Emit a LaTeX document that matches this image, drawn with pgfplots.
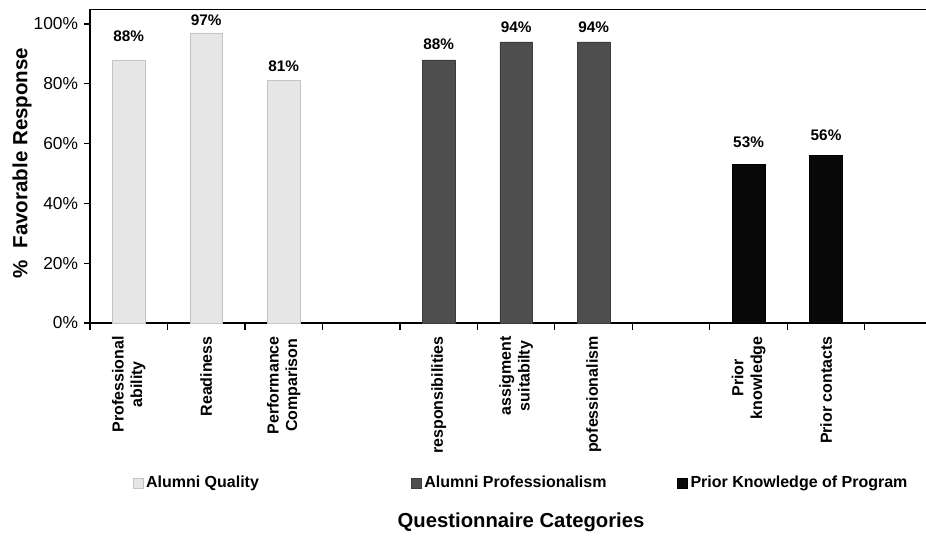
\documentclass[border=0pt]{standalone}
\usepackage{pgfplots}
\usepackage{pgfplotstable}
\pgfplotsset{compat=1.18}
\usepackage{fontspec}
\setmainfont{Liberation Sans}

\definecolor{qualfill}{HTML}{E6E6E6}
\definecolor{qualedge}{HTML}{C4C4C4}
\definecolor{proffill}{HTML}{4E4E4E}
\definecolor{profedge}{HTML}{3C3C3C}
\definecolor{priorfill}{HTML}{080808}

% x = slot, y = percent favourable, off = lift of the value label (pt)
\pgfplotstableread{
x y  off
0 88 10.3
1 97 2.0
2 81 3.5
}\qualdata
\pgfplotstableread{
x y  off
4 88 4.3
5 94 3.5
6 94 3.5
}\profdata
\pgfplotstableread{
x y  off
8 53 8.8
9 56 7.3
}\priordata

\begin{document}
\begin{tikzpicture}
\useasboundingbox (-67.5pt,-159.75pt) rectangle (627pt,242.25pt);
\begin{axis}[
  at={(0,0)}, anchor=south west,
  scale only axis, width=627pt, height=235.5pt,
  xmin=-0.5, xmax=10.29, ymin=0, ymax=105,
  axis lines*=left,
  axis line style={line width=1.4pt, -},
  tick align=outside, tick pos=left,
  major tick length=4.5pt, minor tick length=5pt,
  tick style={line width=0.9pt, black},
  ytick={0,20,...,100},
  yticklabel={\pgfmathprintnumber{\tick}\%},
  /pgf/number format/assume math mode=true,
  yticklabel style={font=\fontsize{13}{15}\selectfont, xshift=-1pt},
  xtick={0,1,2,4,5,6,8,9},
  xticklabels={{Professional\\ability},Readiness,{Performance\\Comparison},
    responsibilities,{assigment\\suitabilty},pofessionalism,
    {Prior\\knowledge},Prior contacts},
  major x tick style={draw=none},
  minor xtick={-0.5,0.5,...,9.5},
  xticklabel style={rotate=90, anchor=east, align=center,
    font=\bfseries\fontsize{12}{14}\selectfont, xshift=-2pt},
  ylabel={\%\ \ Favorable Response},
  ylabel style={at={(axis description cs:-0.0813,0.51)}, anchor=center,
    font=\bfseries\fontsize{15.4}{17}\selectfont},
  xlabel={Questionnaire Categories},
  xlabel style={at={(axis description cs:0.5156,-0.634)}, anchor=center,
    font=\bfseries\fontsize{15.2}{17}\selectfont},
  ybar, bar width=0.42, bar shift=0pt,
  visualization depends on={\thisrow{off} \as \labeloff},
  nodes near coords={\pgfmathprintnumber{\pgfplotspointmeta}\%},
  nodes near coords style={font=\bfseries\fontsize{11.5}{13}\selectfont,
    yshift=\labeloff pt},
  legend image code/.code={\draw[#1] (0pt,-3.75pt) rectangle (7.5pt,3.75pt);},
  legend columns=3,
  legend style={at={(axis description cs:0.046,-0.51)}, anchor=west, draw=none,
    fill=none, font=\bfseries\fontsize{12}{14}\selectfont,
    /tikz/column 2/.style={column sep=112pt},
    /tikz/column 4/.style={column sep=51pt}},
  legend cell align=left,
]
\addplot[draw=qualedge, fill=qualfill, line width=0.5pt] table[x=x, y=y] {\qualdata};
\addplot[draw=profedge, fill=proffill, line width=0.5pt] table[x=x, y=y] {\profdata};
\addplot[draw=black, fill=priorfill, line width=0.5pt] table[x=x, y=y] {\priordata};
\legend{Alumni Quality, Alumni Professionalism, Prior Knowledge of Program}
\draw[line width=1.4pt] (rel axis cs:0,1) -- (rel axis cs:1,1);
\end{axis}
\end{tikzpicture}
\end{document}
